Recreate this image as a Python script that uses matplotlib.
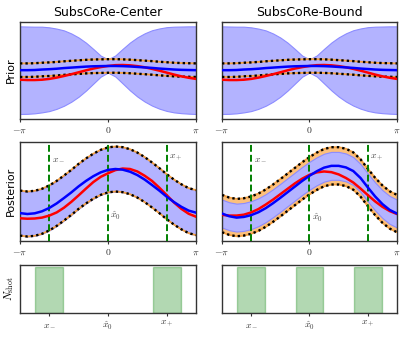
import numpy as np
import matplotlib
matplotlib.use("Agg")
import matplotlib.pyplot as plt
from matplotlib.transforms import blended_transform_factory

plt.rcParams["mathtext.fontset"] = "cm"

# ---------------- data ----------------
x_deg = [-180, -165, -150, -135, -120, -105, -90, -75, -60, -45, -30, -15, 0,
         15, 30, 45, 60, 75, 90, 105, 120, 135, 150, 165, 180]

# prior (identical in both columns)
prior_mean = [0.02, 0.02, 0.03, 0.06, 0.08, 0.11, 0.15, 0.18, 0.21, 0.24, 0.26, 0.27, 0.28,
              0.28, 0.27, 0.25, 0.22, 0.19, 0.16, 0.12, 0.09, 0.06, 0.04, 0.03, 0.02]
prior_std = [2.71, 2.70, 2.68, 2.65, 2.59, 2.48, 2.33, 2.11, 1.83, 1.48, 1.07, 0.65, 0.41,
             0.65, 1.07, 1.48, 1.83, 2.11, 2.33, 2.48, 2.59, 2.65, 2.68, 2.70, 2.71]
prior_bound = 0.42
prior_true = [-0.57, -0.59, -0.59, -0.57, -0.52, -0.44, -0.34, -0.23, -0.11, 0.01, 0.12, 0.21, 0.28,
              0.33, 0.34, 0.32, 0.27, 0.20, 0.10, -0.01, -0.13, -0.25, -0.36, -0.45, -0.52]

# posterior, SubsCoRe-Center
postc_mean = [-0.96, -1.00, -0.97, -0.88, -0.73, -0.53, -0.29, -0.04, 0.23, 0.47, 0.68, 0.85, 0.96,
              1.00, 0.97, 0.88, 0.73, 0.53, 0.29, 0.04, -0.23, -0.47, -0.68, -0.85, -0.94]
postc_std = 1.0
postc_bound = 1.0
postc_true = [-1.19, -1.21, -1.20, -1.16, -1.07, -0.93, -0.72, -0.46, -0.17, 0.13, 0.42, 0.65, 0.81,
              0.95, 1.02, 1.00, 0.89, 0.70, 0.47, 0.17, -0.16, -0.49, -0.77, -0.99, -1.12]

# posterior, SubsCoRe-Bound
postb_mean = [-0.98, -1.10, -1.16, -1.13, -1.05, -0.92, -0.74, -0.52, -0.28, -0.03, 0.22, 0.47, 0.70,
              0.90, 1.06, 1.14, 1.14, 1.07, 0.91, 0.60, 0.18, -0.22, -0.56, -0.82, -0.98]
postb_std = 0.62
postb_bound = 0.83
postb_true = [-1.04, -1.07, -1.07, -1.03, -0.93, -0.78, -0.58, -0.36, -0.12, 0.12, 0.36, 0.57, 0.74,
              0.85, 0.89, 0.86, 0.76, 0.60, 0.40, 0.13, -0.16, -0.44, -0.68, -0.87, -1.00]

x_minus, x_hat0, x_plus = -2.09, 0.0, 2.09
shots_center = [x_minus, x_plus]
counts_center = [1, 1]
shots_bound = [x_minus, x_hat0, x_plus]
counts_bound = [1, 1, 1]

titles = ["SubsCoRe-Center", "SubsCoRe-Bound"]

# ---------------- style ----------------
BAND = (0.70, 0.70, 1.0)
BAND_EDGE = (0.55, 0.55, 1.0)
ORANGE_FILL = "#fcc07c"
ORANGE_LINE = "#f5a040"
GREEN = "green"
SPINE = "#333333"

W, H = 407, 337
fig = plt.figure(figsize=(W / 100, H / 100), dpi=100)


def ax_px(l, t, w, h):
    return fig.add_axes([l / W, 1 - (t + h) / H, w / W, h / H])


def style(ax):
    for s in ax.spines.values():
        s.set_color(SPINE)
        s.set_linewidth(1.0)
    ax.set_yticks([])
    ax.tick_params(axis="x", length=2.5, width=0.8, labelsize=7, pad=2, colors=SPINE)
    ax.set_xlim(-np.pi, np.pi)


def draw_gp(ax, mean, std, bound, true, ylim):
    x = np.deg2rad(x_deg)
    m = np.array(mean)
    t = np.array(true)
    ax.fill_between(x, m - bound, m + bound, color=ORANGE_FILL, lw=0, zorder=1)
    ax.fill_between(x, m - std, m + std, facecolor=BAND, edgecolor=BAND_EDGE, lw=0.8, zorder=2)
    for b in (m + bound, m - bound):
        ax.plot(x, b, color=ORANGE_LINE, lw=1.3, zorder=3)
        ax.plot(x, b, color="k", lw=1.7, ls=(0, (1, 1.3)), zorder=4)
    ax.plot(x, t, color="red", lw=1.8, zorder=5)
    ax.plot(x, m, color="blue", lw=1.8, zorder=6)
    ax.set_ylim(*ylim)
    ax.set_xticks([-np.pi, 0, np.pi])
    ax.set_xticklabels([r"$-\pi$", r"$0$", r"$\pi$"])


cols = [(20, 176), (222, 175)]
posts = [(postc_mean, postc_std, postc_bound, postc_true),
         (postb_mean, postb_std, postb_bound, postb_true)]
shots = [(shots_center, counts_center), (shots_bound, counts_bound)]

for i, (left, width) in enumerate(cols):
    # prior
    ax = ax_px(left, 22, width, 97)
    style(ax)
    draw_gp(ax, prior_mean, prior_std, prior_bound, prior_true, (-3, 3))
    ax.set_title(titles[i], fontsize=9, pad=4)
    if i == 0:
        ax.set_ylabel("Prior", fontsize=8, labelpad=3)

    # posterior
    ax = ax_px(left, 142, width, 99)
    style(ax)
    pm, ps, pb, pt = posts[i]
    draw_gp(ax, pm, ps, pb, pt, (-2.2, 2.2))
    for xv in (x_minus, x_hat0, x_plus):
        ax.axvline(xv, color=GREEN, ls="--", lw=1.4, zorder=4.5, dashes=(3.5, 1.6))
    tr = blended_transform_factory(ax.transData, ax.transAxes)
    ax.text(x_minus + 0.08, 0.84, r"$x_-$", transform=tr, fontsize=7, color="#444444",
            ha="left", va="center", zorder=8)
    ax.text(x_plus + 0.08, 0.84, r"$x_+$", transform=tr, fontsize=7, color="#444444",
            ha="left", va="center", zorder=8)
    ax.text(x_hat0 + 0.08, 0.25 if i == 0 else 0.23, r"$\hat{x}_0$", transform=tr, fontsize=7,
            color="#444444", ha="left", va="center", zorder=8)
    if i == 0:
        ax.set_ylabel("Posterior", fontsize=8, labelpad=3)

    # shots
    ax = ax_px(left, 265, width, 48)
    style(ax)
    sx, sc = shots[i]
    ax.bar(sx, sc, width=1.0, color=GREEN, alpha=0.3, edgecolor=GREEN, lw=1.0)
    ax.set_ylim(0, 1.04)
    ax.set_xticks([x_minus, x_hat0, x_plus])
    ax.set_xticklabels([r"$x_-$", r"$\hat{x}_0$", r"$x_+$"])
    if i == 0:
        ax.set_ylabel(r"$N_{\rm shot}$", fontsize=8, labelpad=3)

fig.savefig("out.png", dpi=100)
